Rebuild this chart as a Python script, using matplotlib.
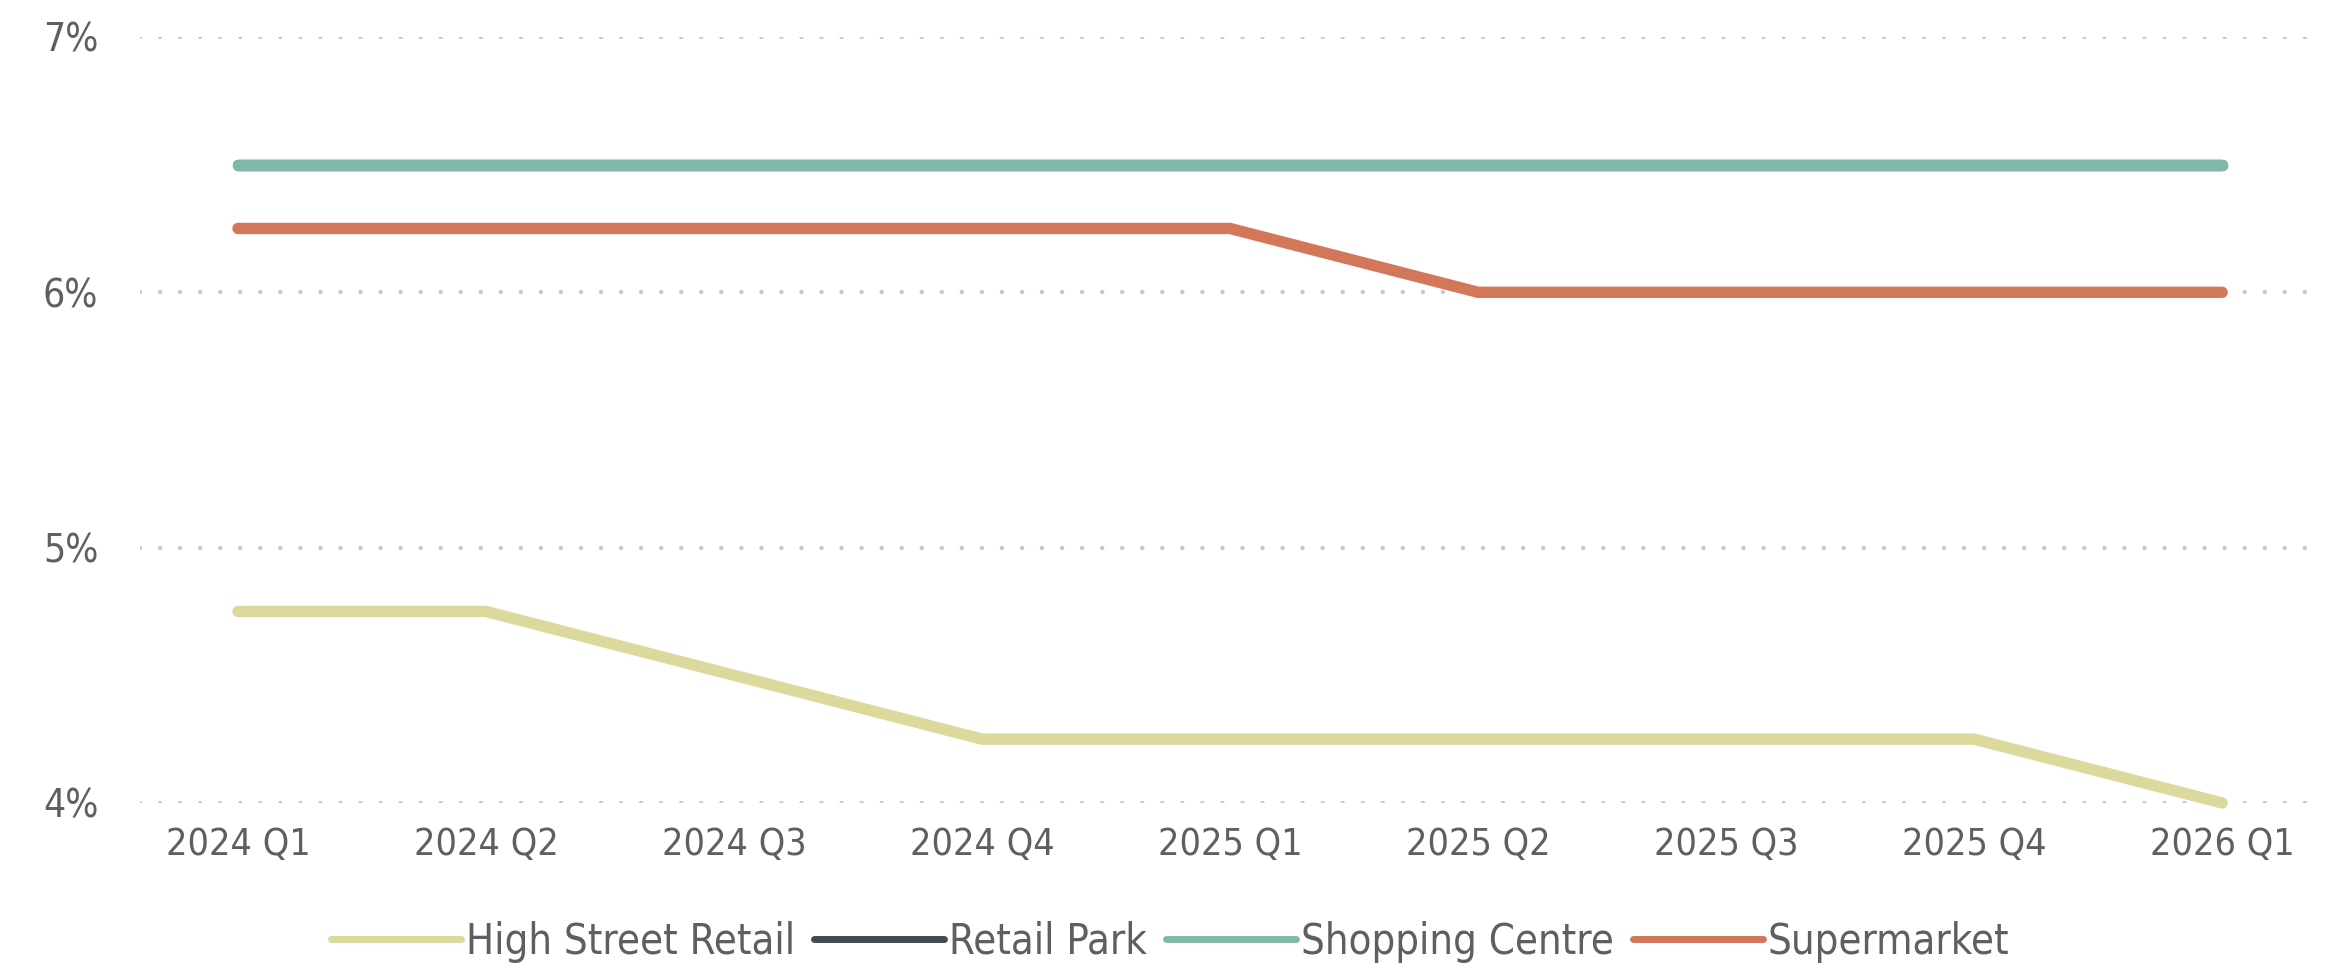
import matplotlib
matplotlib.use('Agg')
import matplotlib.pyplot as plt

# Daten
quartale = ['2024 Q1', '2024 Q2', '2024 Q3', '2024 Q4', '2025 Q1',
            '2025 Q2', '2025 Q3', '2025 Q4', '2026 Q1']
high_street = [4.75, 4.75, 4.5, 4.25, 4.25, 4.25, 4.25, 4.25, 4.0]
retail_park = [6.5, 6.5, 6.5, 6.5, 6.5, 6.5, 6.5, 6.5, 6.5]
shopping_centre = [6.5, 6.5, 6.5, 6.5, 6.5, 6.5, 6.5, 6.5, 6.5]
supermarket = [6.25, 6.25, 6.25, 6.25, 6.25, 6.0, 6.0, 6.0, 6.0]
y_ticks = [4, 5, 6, 7]

serien = [
    ('High Street Retail', high_street, '#dbd99b'),
    ('Retail Park', retail_park, '#3f4d4f'),
    ('Shopping Centre', shopping_centre, '#80b8a9'),
    ('Supermarket', supermarket, '#d2775a'),
]

text_farbe = '#5f5f5f'
plt.rcParams['font.family'] = ['DejaVu Sans']
plt.rcParams['font.stretch'] = 'condensed'

fig = plt.figure(figsize=(23.51, 9.68), dpi=100)
ax = fig.add_axes([0.05955, 0.1705, 0.9268, 0.7913])

x = list(range(len(quartale)))
for name, werte, farbe in serien:
    ax.plot(x, werte, color=farbe, linewidth=8.2, solid_capstyle='round',
            solid_joinstyle='miter', label=name, clip_on=False)

ax.set_xlim(-0.395, 8.39)
ax.set_ylim(4, 7)
ax.set_xticks(x)
ax.set_xticklabels(quartale)
ax.set_yticks(y_ticks)
ax.set_yticklabels([f'{t}%' for t in y_ticks])

# Gitterlinien (gepunktet)
ax.grid(axis='y', color='#c8c8c8', linewidth=3.2, linestyle=(0, (0.01, 4.5)),
        dash_capstyle='round')
ax.set_axisbelow(True)

for s in ax.spines.values():
    s.set_visible(False)
ax.tick_params(axis='both', length=0, colors=text_farbe)
ax.tick_params(axis='x', labelsize=27, pad=17)
ax.tick_params(axis='y', labelsize=28, pad=30)

handles, labels = ax.get_legend_handles_labels()
leg = fig.legend(handles, labels, loc='center',
                 bbox_to_anchor=(0.4977, 1 - 942 / 968), ncol=4,
                 frameon=False, fontsize=30, handlelength=3.12,
                 handletextpad=0.12, columnspacing=0.46,
                 borderpad=0, borderaxespad=0)
for t in leg.get_texts():
    t.set_color(text_farbe)
for l in leg.get_lines():
    l.set_linewidth(5)
    l.set_solid_capstyle('round')

plt.savefig('out.png', dpi=100)
